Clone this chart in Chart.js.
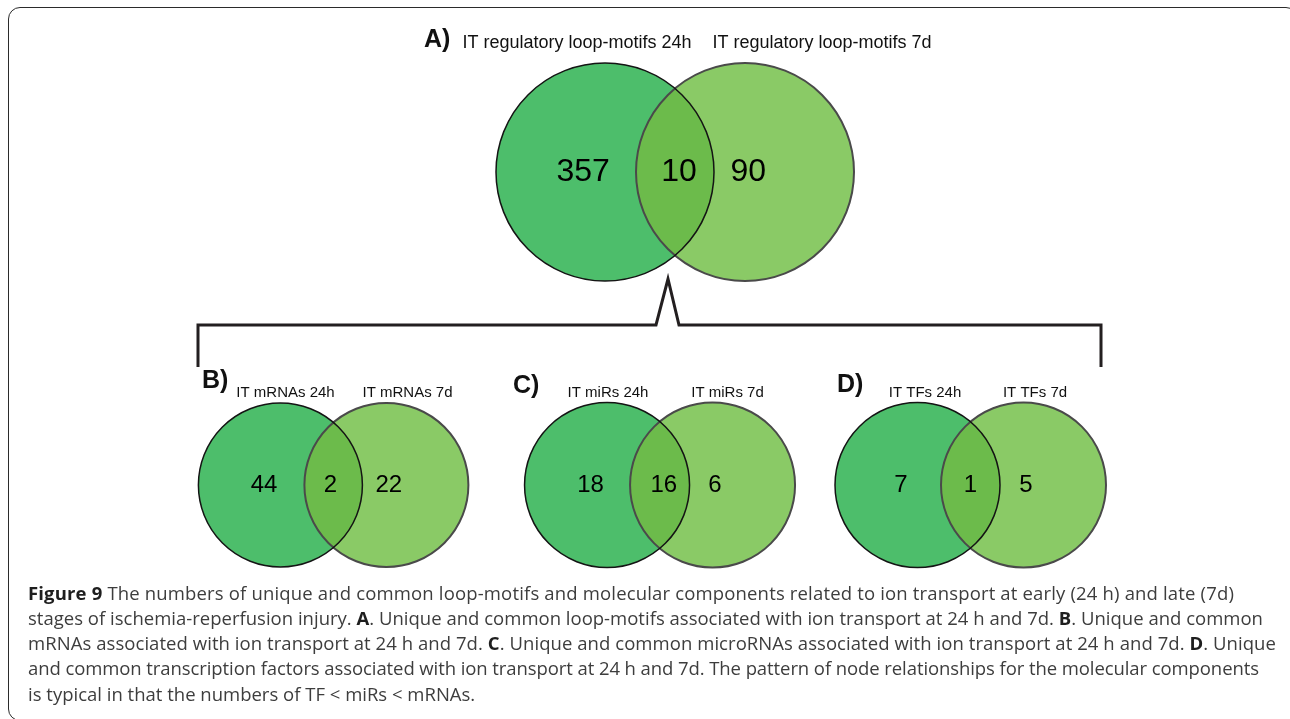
<!DOCTYPE html>
<html>
<head>
    <meta charset="UTF-8">
    <title>Figure 9 - ion transport Venn diagrams</title>
    <script src="https://cdn.jsdelivr.net/npm/chart.js@4.4.1/dist/chart.umd.min.js"></script>
    <style>
        body { margin: 0; background: #fff; }
        #wrap { position: relative; width: 1290px; height: 719px; overflow: hidden; }
        #frame { position: absolute; left: 8px; top: 7px; width: 1290px; height: 714px;
                 border: 1.5px solid #2b2b2b; border-radius: 12px; box-sizing: border-box; }
        #venn { position: absolute; left: 0; top: 0; }
        .cap { position: absolute; left: 28px; font-family: 'Open Sans', sans-serif; font-size: 18.5px;
               line-height: 22px; color: #3d3d3d; white-space: nowrap; }
        .cap b { color: #1e1e1e; }
    </style>
</head>
<body>
<div id="wrap">
    <div id="frame"></div>
    <canvas id="venn" width="1290" height="719"></canvas>
    <div class="cap" style="top:582px"><b>Figure 9</b> The numbers of unique and common loop-motifs and molecular components related to ion transport at early (24 h) and late (7d)</div>
    <div class="cap" style="top:607px">stages of ischemia-reperfusion injury. <b>A</b>. Unique and common loop-motifs associated with ion transport at 24 h and 7d. <b>B</b>. Unique and common</div>
    <div class="cap" style="top:632px">mRNAs associated with ion transport at 24 h and 7d. <b>C</b>. Unique and common microRNAs associated with ion transport at 24 h and 7d. <b>D</b>. Unique</div>
    <div class="cap" style="top:657px">and common transcription factors associated with ion transport at 24 h and 7d. The pattern of node relationships for the molecular components</div>
    <div class="cap" style="top:683px">is typical in that the numbers of TF &lt; miRs &lt; mRNAs.</div>
</div>

<script>
    // counts per panel (A..D)
    var panelTags = ['A)', 'B)', 'C)', 'D)'];
    var earlySets = ['IT regulatory loop-motifs 24h', 'IT mRNAs 24h', 'IT miRs 24h', 'IT TFs 24h'];
    var lateSets = ['IT regulatory loop-motifs 7d', 'IT mRNAs 7d', 'IT miRs 7d', 'IT TFs 7d'];
    var earlyOnly = [357, 44, 18, 7];
    var common = [10, 2, 16, 1];
    var lateOnly = [90, 22, 6, 5];

    // where each pair of circles sits (page units = scale units)
    var panels = [
        {cx: 675, cy: 172, r: 109, gap: 140, numFont: 32, nudge: 4, tagX: 424, tagY: 47, tagFont: 25, titleY: 48, titleFont: 18, titleL: 577, titleR: 822},
        {cx: 333.4, cy: 485, r: 82, gap: 106, numFont: 24, nudge: -3, tagX: 202, tagY: 388, tagFont: 25, titleY: 397, titleFont: 15, titleL: 285.5, titleR: 407.5},
        {cx: 659.8, cy: 485, r: 82.5, gap: 105.5, numFont: 24, nudge: 4, tagX: 513, tagY: 393, tagFont: 25, titleY: 397, titleFont: 15, titleL: 608, titleR: 727.5},
        {cx: 970.5, cy: 485, r: 82.5, gap: 106, numFont: 24, nudge: 0, tagX: 837, tagY: 392, tagFont: 25, titleY: 397, titleFont: 15, titleL: 925, titleR: 1035}
    ];
    var bracket = [[198, 367], [198, 325], [656, 325], [668, 279], [679, 325], [1101, 325], [1101, 367]];

    var earlyFill = '#4dbe6b', lateFill = '#8aca66', bothFill = '#6cbb4b';
    var font = '"Liberation Sans", Arial, sans-serif';

    // one point per region, the count rides along as v
    var pts = [];
    for (var i = 0; i < panels.length; i++) {
        var p = panels[i];
        pts.push({x: p.cx - p.gap / 2 - 0.2 * p.r, y: p.cy, v: earlyOnly[i], size: p.numFont});
        pts.push({x: p.cx + p.nudge, y: p.cy, v: common[i], size: p.numFont});
        pts.push({x: p.cx + p.gap / 2 + 0.03 * p.r, y: p.cy, v: lateOnly[i], size: p.numFont});
    }

    function circlePath(ctx, x, y, r) {
        ctx.beginPath();
        ctx.arc(x, y, r, 0, Math.PI * 2);
    }

    var vennPlugin = {
        id: 'venn',
        beforeDatasetsDraw: function (chart) {
            var ctx = chart.ctx, xs = chart.scales.x, ys = chart.scales.y;
            ctx.save();
            panels.forEach(function (p, i) {
                var ax = xs.getPixelForValue(p.cx - p.gap / 2);
                var bx = xs.getPixelForValue(p.cx + p.gap / 2);
                var cy = ys.getPixelForValue(p.cy);
                var r = xs.getPixelForValue(p.cx + p.r) - xs.getPixelForValue(p.cx);

                ctx.fillStyle = earlyFill;
                circlePath(ctx, ax, cy, r); ctx.fill();
                ctx.fillStyle = lateFill;
                circlePath(ctx, bx, cy, r); ctx.fill();

                ctx.save();
                circlePath(ctx, ax, cy, r); ctx.clip();
                ctx.fillStyle = bothFill;
                circlePath(ctx, bx, cy, r); ctx.fill();
                ctx.restore();

                ctx.lineWidth = 2;
                ctx.strokeStyle = '#4a4a4a';
                circlePath(ctx, bx, cy, r); ctx.stroke();
                ctx.lineWidth = 1.5;
                ctx.strokeStyle = '#141414';
                circlePath(ctx, ax, cy, r); ctx.stroke();

                // panel tag + set names
                ctx.fillStyle = '#111';
                ctx.textBaseline = 'alphabetic';
                ctx.textAlign = 'left';
                ctx.font = 'bold ' + p.tagFont + 'px ' + font;
                ctx.fillText(panelTags[i], xs.getPixelForValue(p.tagX), ys.getPixelForValue(p.tagY));
                ctx.textAlign = 'center';
                ctx.font = p.titleFont + 'px ' + font;
                ctx.fillText(earlySets[i], xs.getPixelForValue(p.titleL), ys.getPixelForValue(p.titleY));
                ctx.fillText(lateSets[i], xs.getPixelForValue(p.titleR), ys.getPixelForValue(p.titleY));
            });

            // bracket from A down to B, C, D
            ctx.lineWidth = 3;
            ctx.strokeStyle = '#231f20';
            ctx.lineJoin = 'miter';
            ctx.beginPath();
            bracket.forEach(function (b, k) {
                var px = xs.getPixelForValue(b[0]), py = ys.getPixelForValue(b[1]);
                if (k === 0) ctx.moveTo(px, py); else ctx.lineTo(px, py);
            });
            ctx.stroke();
            ctx.restore();
        },
        afterDatasetsDraw: function (chart) {
            var ctx = chart.ctx;
            var meta = chart.getDatasetMeta(0);
            ctx.save();
            ctx.fillStyle = '#000';
            ctx.textAlign = 'center';
            ctx.textBaseline = 'middle';
            meta.data.forEach(function (el, k) {
                var d = pts[k];
                ctx.font = d.size + 'px ' + font;
                ctx.fillText(String(d.v), el.x, el.y);
            });
            ctx.restore();
        }
    };

    var myChart = new Chart(document.getElementById('venn'), {
        type: 'scatter',
        data: {
            datasets: [{label: 'counts', data: pts, pointRadius: 0, pointHoverRadius: 0}]
        },
        options: {
            responsive: false,
            animation: false,
            events: [],
            layout: {padding: 0},
            plugins: {legend: {display: false}, tooltip: {enabled: false}},
            scales: {
                x: {type: 'linear', min: 0, max: 1290, display: false},
                y: {type: 'linear', min: 0, max: 719, reverse: true, display: false}
            }
        },
        plugins: [vennPlugin]
    });

    // stretch the justified caption lines to their right edge
    var capEnds = [1234, 1263, 1276, 1259];
    function fitCaption() {
        var lines = document.querySelectorAll('.cap');
        for (var k = 0; k < capEnds.length; k++) {
            var el = lines[k];
            el.style.letterSpacing = '0px';
            var w = el.getBoundingClientRect().width;
            var n = el.textContent.length;
            el.style.letterSpacing = ((capEnds[k] - 28 - w) / n).toFixed(3) + 'px';
        }
    }
    fitCaption();
    if (document.fonts) document.fonts.ready.then(fitCaption);
</script>
</body>
</html>
